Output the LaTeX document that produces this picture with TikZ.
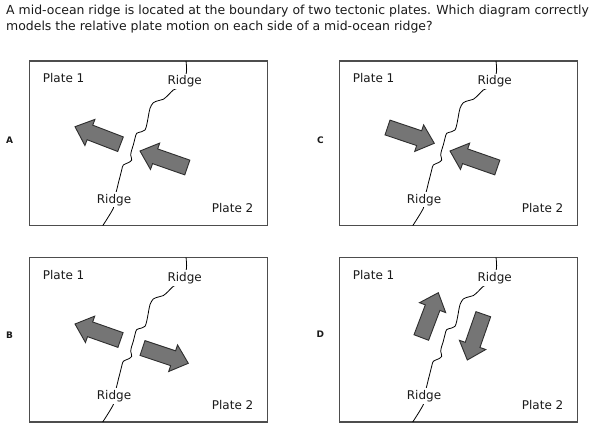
\documentclass[tikz,border=0pt]{standalone}
\usepackage{fontspec}
\setmainfont{DejaVu Sans}
\usetikzlibrary{calc}
\definecolor{boxgray}{HTML}{4D4D4D}
\definecolor{arrowgray}{HTML}{757575}
\definecolor{arrowedge}{HTML}{2E2E2E}
\definecolor{txt}{HTML}{1A1A1A}
\tikzset{
  platebox/.style={draw=boxgray, line width=1.3pt},
  ridgeline/.style={draw=black, line width=0.8pt, line join=round},
  lbl/.style={font=\fontsize{12}{14}\selectfont, text=txt, fill=white, inner sep=2pt, anchor=base west},
  letter/.style={font=\fontsize{9}{10}\selectfont\bfseries, text=txt, inner sep=0pt},
  blk/.style={fill=arrowgray, draw=arrowedge, line width=0.9pt, line join=miter},
  qtitle/.style={font=\fontsize{12.45}{16}\selectfont, anchor=base west, inner sep=0pt, text=txt}
}
% block arrow from tail #1 to tip #2
\newcommand\plarrow[2]{%
  \coordinate (t) at #1;
  \coordinate (p) at #2;
  \coordinate (n) at ($(p)!16pt!(t)$);
  \filldraw[blk] ($(t)!7.8pt!90:(p)$) -- ($(n)!7.8pt!-90:(t)$) -- ($(n)!14pt!-90:(t)$)
     -- (p) -- ($(n)!14pt!90:(t)$) -- ($(n)!7.8pt!90:(t)$) -- ($(t)!7.8pt!-90:(p)$) -- cycle;
}
% panel frame, ridge and labels
\newcommand\platepanel{%
  \draw[platebox] (0,0) rectangle (238.4,164.7);
  \draw[ridgeline] plot[smooth, tension=0.55] coordinates {
    (156.7,0) (157.2,11) (153.7,21) (150,26.3) (144,29) (139,34) (134,38.3) (129,39.7)
    (124,41.7) (120.7,47.3) (119,55.7) (117.4,64) (115.7,69) (112.4,70.7) (107.4,72.3)
    (105.7,77.3) (104,84) (102.4,89) (101.4,94) (102.4,99) (99,101.7) (94,104) (92.4,109)
    (90.7,115.7) (89,122.3) (87.4,129) (84.7,139) (84,147.3) (73.4,164.7)};
  \node[lbl] (p1) at (11.4,22) {Plate 1};
  \node[lbl] (r1) at (136,24) {Ridge};
  \node[lbl] (r2) at (65.4,142) {Ridge};
  \node[lbl] (p2) at (180.4,151.8) {Plate 2};
}
\begin{document}
\begin{tikzpicture}[x=1pt,y=-1pt]
  \useasboundingbox[fill=white] (0,0) rectangle (607,433);
  \node[qtitle] (q1) at (6,15) {A mid-ocean ridge is located at the boundary of two tectonic plates. Which diagram correctly};
  \node[qtitle] (q2) at (6,31) {models the relative plate motion on each side of a mid-ocean ridge?};
  \node[letter] (la) at (9.5,140) {A};
  \node[letter] (lb) at (9.5,335) {B};
  \node[letter] (lc) at (320.3,140) {C};
  \node[letter] (ld) at (320.3,334.5) {D};
  % Panel A
  \begin{scope}[shift={(29.3,61)}]
    \platepanel
    \plarrow{(91.2,83.2)}{(45.7,65.7)}
    \plarrow{(158,106.5)}{(110.7,90)}
  \end{scope}
  % Panel C
  \begin{scope}[shift={(339.3,61)}]
    \platepanel
    \plarrow{(48.2,66.5)}{(95,82.3)}
    \plarrow{(158,106.5)}{(110.7,90)}
  \end{scope}
  % Panel B
  \begin{scope}[shift={(29.3,257.3)}]
    \platepanel
    \plarrow{(91.2,82.7)}{(45.7,66.7)}
    \plarrow{(113.2,90.7)}{(159,106)}
  \end{scope}
  % Panel D
  \begin{scope}[shift={(339.3,257.3)}]
    \platepanel
    \plarrow{(82,80.2)}{(99,35.4)}
    \plarrow{(144,56.9)}{(128,102.7)}
  \end{scope}
\end{tikzpicture}
\end{document}
